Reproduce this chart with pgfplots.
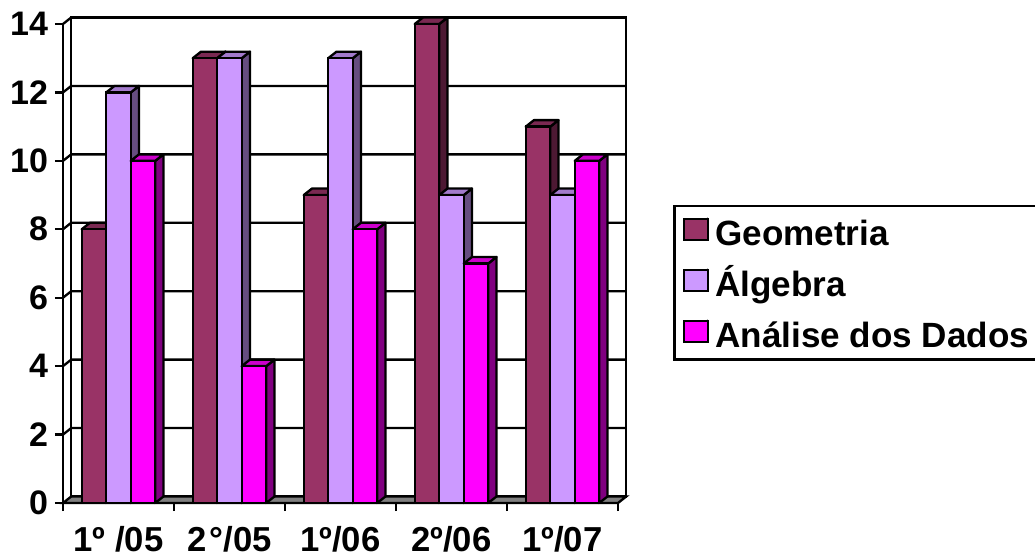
\documentclass[border=0pt]{standalone}
\usepackage{pgfplots}
\usepackage{pgfplotstable}
\usepackage{fontspec}
\pgfplotsset{compat=1.18}
\setmainfont{Liberation Sans}

\definecolor{geo}{HTML}{993366}
\definecolor{geotop}{HTML}{7A2952}
\definecolor{geoside}{HTML}{4D1933}
\definecolor{alg}{HTML}{CC99FF}
\definecolor{algtop}{HTML}{A37ACC}
\definecolor{algside}{HTML}{664D80}
\definecolor{ana}{HTML}{FF00FF}
\definecolor{anatop}{HTML}{CC00CC}
\definecolor{anaside}{HTML}{800080}
\definecolor{floorgray}{HTML}{808080}

\pgfplotstableread{
x   geo alg ana
0.5 8   12  10
1.5 13  13  4
2.5 9   13  8
3.5 14  9   7
4.5 11  9   10
}\notas

% depth of the pseudo-3D extrusion, in axis units
\newcommand{\ddx}{0.074}
\newcommand{\ddy}{0.19}
% bar width in axis units
\newcommand{\bwx}{0.2207}

% top and side faces of one series; #1 column, #2 slot (-1,0,1), #3 top colour, #4 side colour
\newcommand{\depthfaces}[4]{%
  \pgfplotsforeachungrouped \r in {0,...,4}{%
    \pgfplotstablegetelem{\r}{x}\of\notas \let\cx\pgfplotsretval
    \pgfplotstablegetelem{\r}{#1}\of\notas \let\val\pgfplotsretval
    \pgfmathsetmacro\xl{\cx+(#2-0.5)*\bwx}%
    \pgfmathsetmacro\xr{\cx+(#2+0.5)*\bwx}%
    \pgfmathsetmacro\xlb{\xl+\ddx}%
    \pgfmathsetmacro\xrb{\xr+\ddx}%
    \pgfmathsetmacro\vb{\val+\ddy}%
    \edef\next{\noexpand\addplot[forget plot,fill=#4,draw=black,line width=1.75pt,line join=round]
      coordinates {(\xr,0) (\xrb,\ddy) (\xrb,\vb) (\xr,\val)} -- cycle;
      \noexpand\addplot[forget plot,fill=#3,draw=black,line width=1.75pt,line join=round]
      coordinates {(\xl,\val) (\xr,\val) (\xrb,\vb) (\xlb,\vb)} -- cycle;}%
    \next
  }%
}

\begin{document}
\begin{tikzpicture}
\path[use as bounding box] (0,0) rectangle (776.25pt,420pt);
\begin{axis}[
  at={(47.25pt,42.75pt)}, anchor=south west,
  scale only axis, width=416.25pt, height=359.25pt,
  xmin=0, xmax=5, ymin=0, ymax=14,
  clip=false,
  axis x line=bottom, axis y line=left,
  axis line style={-,black,line width=1.75pt},
  tick style={black,line width=1.75pt},
  tick align=outside, major tick length=6pt,
  xtick={0,1,2,3,4,5}, xticklabels={},
  extra x ticks={0.5,1.5,2.5,3.5,4.5},
  extra x tick labels={1º /05,2\kern2.5pt°/05,1º/06,2º/06,1º/07},
  extra x tick style={major tick length=0pt,
    tick label style={font=\fontsize{26pt}{28pt}\selectfont\bfseries,
      anchor=base, inner ysep=0pt, yshift=-36.5pt}},
  ytick={0,2,...,14},
  /pgf/number format/assume math mode=true,
  yticklabel style={font=\fontsize{25.5pt}{28pt}\selectfont\bfseries, inner xsep=0pt, xshift=-5pt},
  legend style={at={(1.0995,0.622)}, anchor=north west, draw=black, line width=1.75pt,
    font=\fontsize{26.3pt}{28pt}\selectfont\bfseries,
    inner xsep=6.5pt, inner ysep=4.5pt, row sep=8.75pt,
    legend cell align=left,
    nodes={inner xsep=4.5pt, inner ysep=0pt, text height=24.75pt, text depth=4.75pt}},
  legend image code/.code={%
    \path (0pt,0pt) -- (18pt,10pt);
    \draw[#1,overlay,line width=1.5pt] (0pt,-6pt) rectangle (18pt,10pt);},
]
% back wall, side wall and floor
\addplot[forget plot,fill=white,draw=black,line width=1.75pt]
  coordinates {(\ddx,\ddy) (5.074,\ddy) (5.074,14.19) (\ddx,14.19)} -- cycle;
\addplot[forget plot,fill=floorgray,draw=black,line width=1.75pt]
  coordinates {(0,0) (5,0) (5.074,\ddy) (\ddx,\ddy)} -- cycle;
\addplot[forget plot,black,line width=1.75pt] coordinates {(0,14) (\ddx,14.19)};
% grid on the back wall with its slanted links to the left axis
\pgfplotsinvokeforeach{2,4,6,8,10,12}{
  \addplot[forget plot,black,line width=1.75pt]
    coordinates {(0,#1) (\ddx,#1+\ddy) (5.074,#1+\ddy)};
}
% bars, left to right so each one hides the depth of its neighbour
\depthfaces{geo}{-1}{geotop}{geoside}
\addplot[ybar,bar width=18.375pt,bar shift=-18.375pt,fill=geo,draw=black,line width=1.75pt]
  table[x=x,y=geo]{\notas};
\addlegendentry{Geometria}
\depthfaces{alg}{0}{algtop}{algside}
\addplot[ybar,bar width=18.375pt,bar shift=0pt,fill=alg,draw=black,line width=1.75pt]
  table[x=x,y=alg]{\notas};
\addlegendentry{Álgebra}
\depthfaces{ana}{1}{anatop}{anaside}
\addplot[ybar,bar width=18.375pt,bar shift=18.375pt,fill=ana,draw=black,line width=1.75pt]
  table[x=x,y=ana]{\notas};
\addlegendentry{Análise dos Dados}
\end{axis}
\end{tikzpicture}
\end{document}
